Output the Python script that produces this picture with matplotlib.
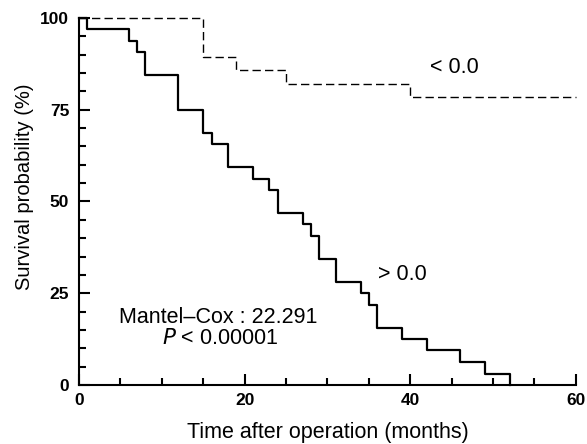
import matplotlib
matplotlib.use("Agg")
import matplotlib.pyplot as plt

plt.rcParams['font.family'] = ['Liberation Sans', 'DejaVu Sans']

# Kaplan-Meier steps
high_months = [0, 1, 6, 7, 8, 12, 15, 16, 18, 21, 23, 24, 27, 28, 29, 31, 34, 35, 36, 39, 42, 46, 49, 52]
high_surv = [100, 96.9, 93.75, 90.6, 84.4, 75.0, 68.75, 65.6, 59.4, 56.25, 53.1, 46.9,
             43.75, 40.6, 34.4, 28.1, 25.0, 21.9, 15.6, 12.5, 9.4, 6.25, 3.1, 0]
low_months = [0, 15, 19, 25, 40, 60]
low_surv = [100, 89.3, 85.7, 82.1, 78.6, 78.6]

x_major = [0, 20, 40, 60]
y_major = [0, 25, 50, 75, 100]

fig = plt.figure(figsize=(5.87, 4.44), dpi=100)
ax = fig.add_axes([0.1346, 0.1329, 0.8464, 0.8266])

ax.step(high_months, high_surv, where='post', color='black', lw=1.6, clip_on=False)
ax.step(low_months, low_surv, where='post', color='black', lw=1.0,
        linestyle=(0, (6, 3)), clip_on=False)

ax.set_xlim(0, 60)
ax.set_ylim(0, 100)
ax.spines['top'].set_visible(False)
ax.spines['right'].set_visible(False)
ax.spines['left'].set_linewidth(1.5)
ax.spines['bottom'].set_linewidth(1.5)

ax.set_xticks(x_major)
ax.set_xticks(range(0, 61, 5), minor=True)
ax.set_yticks(y_major)
ax.set_yticks(range(0, 101, 5), minor=True)
ax.tick_params(which='major', direction='in', length=8, width=1.5, labelsize=12.5)
ax.tick_params(axis='y', pad=7)
ax.tick_params(axis='x', pad=5.5)
ax.tick_params(which='minor', direction='in', length=5, width=1.5)
for lab in ax.get_xticklabels() + ax.get_yticklabels():
    lab.set_fontweight('bold')

ax.set_xlabel('Time after operation (months)', fontsize=15.5, labelpad=10)
ax.set_ylabel('Survival probability (%)', fontsize=14.5)
ax.yaxis.set_label_coords(-0.09, 0.54)

ax.text(42.4, 86.4, '< 0.0', fontsize=15.5, va='center', ha='left')
ax.text(36.1, 30.2, '> 0.0', fontsize=15.5, va='center', ha='left')
ax.text(16.8, 18.5, 'Mantel\u2013Cox : 22.291', fontsize=15.5, va='center', ha='center')
ax.text(17.0, 12.8, '$\\it{P}$ < 0.00001', fontsize=15.5, va='center', ha='center')

fig.savefig('out.png', dpi=100)
